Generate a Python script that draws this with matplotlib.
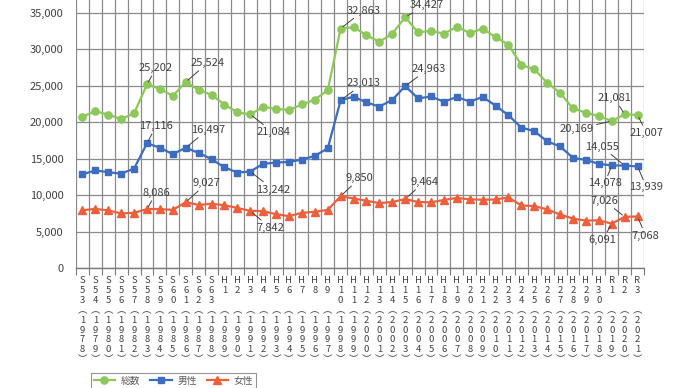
import matplotlib
matplotlib.use("Agg")
import matplotlib.pyplot as plt
from matplotlib.lines import Line2D

plt.rcParams['font.family'] = ['Noto Sans CJK JP', 'DejaVu Sans']

years = list(range(1978, 2022))
era_labels = ["S53", "S54", "S55", "S56", "S57", "S58", "S59", "S60", "S61", "S62", "S63",
              "H1", "H2", "H3", "H4", "H5", "H6", "H7", "H8", "H9", "H10",
              "H11", "H12", "H13", "H14", "H15", "H16", "H17", "H18", "H19", "H20",
              "H21", "H22", "H23", "H24", "H25", "H26", "H27", "H28", "H29", "H30",
              "R1", "R2", "R3"]

total = [20788, 21503, 21048, 20434, 21228, 25202, 24596, 23599, 25524, 24460,
         23742, 22436, 21346, 21084, 22104, 21851, 21679, 22445, 23104, 24391,
         32863, 33048, 31957, 31042, 32143, 34427, 32325, 32552, 32155, 33093,
         32249, 32845, 31690, 30651, 27858, 27283, 25427, 24025, 21897, 21321,
         20840, 20169, 21081, 21007]
male = [12859, 13386, 13155, 12942, 13654, 17116, 16508, 15624, 16497, 15802,
        14934, 13818, 13102, 13242, 14296, 14468, 14560, 14874, 15393, 16416,
        23013, 23512, 22727, 22144, 23080, 24963, 23272, 23540, 22813, 23478,
        22831, 23472, 22283, 20955, 19273, 18787, 17386, 16681, 15121, 14826,
        14290, 14078, 14055, 13939]
female = [7929, 8117, 7893, 7492, 7574, 8086, 8088, 7975, 9027, 8658,
          8808, 8618, 8244, 7842, 7808, 7383, 7119, 7571, 7711, 7975,
          9850, 9536, 9230, 8898, 9063, 9464, 9053, 9012, 9342, 9615,
          9418, 9373, 9407, 9696, 8585, 8496, 8041, 7344, 6776, 6495,
          6550, 6091, 7026, 7068]

series_names = ["総数", "男性", "女性"]
yticks = [0, 5000, 10000, 15000, 20000, 25000, 30000, 35000]

# annotated years and label offsets (pixels)
ann_total = {1983: (9, 16), 1986: (22, 19), 1991: (23, -18), 1998: (23, 18),
             2003: (22, 12), 2019: (-35, -8), 2020: (-10, 16), 2021: (9, -18)}
ann_male = {1983: (9, 17), 1986: (22, 18), 1991: (23, -18), 1998: (23, 17),
            2003: (23, 17), 2019: (-7, -18), 2020: (-23, 19), 2021: (9, -21)}
ann_female = {1983: (9, 16), 1986: (21, 19), 1991: (20, -17), 1998: (19, 18),
              2003: (19, 17), 2019: (-9, -16), 2020: (-20, 16), 2021: (8, -19)}

c_total = "#8DC85B"
c_male = "#3D6DBF"
c_female = "#EE603C"
grid_c = "#8A8A8A"
text_c = "#404040"

fig = plt.figure(figsize=(6.9, 3.88), dpi=100)
ax = fig.add_axes([76 / 690, 1 - 268 / 388, 568 / 690, 268 / 388])

x = list(range(len(years)))
ax.plot(x, total, color=c_total, lw=1.6, marker="o", ms=5.2, zorder=3, clip_on=False)
ax.plot(x, male, color=c_male, lw=1.6, marker="s", ms=5.0, zorder=3, clip_on=False)
ax.plot(x, female, color=c_female, lw=1.6, marker="^", ms=5.2, zorder=3, clip_on=False)

ax.set_xlim(-0.5, len(years) - 0.5)
ax.set_ylim(0, 36780)

# gridlines
for b in range(len(years) + 1):
    ax.axvline(b - 0.5, color=grid_c, lw=0.9, zorder=1)
for yt in yticks:
    ax.axhline(yt, color=grid_c, lw=0.9, zorder=1)

for sp in ["top", "right"]:
    ax.spines[sp].set_visible(False)
ax.spines["left"].set_visible(False)
ax.spines["bottom"].set_color("#7a7a7a")
ax.spines["bottom"].set_linewidth(1.0)

ax.set_yticks(yticks)
ax.set_yticklabels([f"{v:,}" for v in yticks], fontsize=8, color=text_c)
ax.tick_params(axis="y", length=0, pad=9)

# x ticks at category boundaries
ax.set_xticks([b - 0.5 for b in range(len(years) + 1)])
ax.set_xticklabels([])
ax.tick_params(axis="x", length=5, color="#7a7a7a", width=0.8)

trans = ax.get_xaxis_transform()
for i, (era, yr) in enumerate(zip(era_labels, years)):
    chars = [era[0]] + list(era[1:])
    while len(chars) < 3:
        chars.append(" ")
    chars += ["︵"] + list(str(yr)) + ["︶"]
    ax.text(i, -0.03, "\n".join(chars), transform=trans, ha="center", va="top",
            fontsize=6.8, color=text_c, linespacing=1.13)

def annotate(series, ann):
    for yr, (dx, dy) in ann.items():
        i = years.index(yr)
        v = series[i]
        ax.annotate(f"{v:,}", xy=(i, v), xytext=(dx, dy), textcoords="offset pixels",
                    ha="center", va="center", fontsize=8, color=text_c,
                    annotation_clip=False, zorder=4,
                    arrowprops=dict(arrowstyle="-", color="#404040", lw=0.7,
                                    shrinkA=0, shrinkB=2))

annotate(total, ann_total)
annotate(male, ann_male)
annotate(female, ann_female)

handles = [Line2D([], [], color=c_total, marker="o", lw=1.6, ms=5.2),
           Line2D([], [], color=c_male, marker="s", lw=1.6, ms=5.0),
           Line2D([], [], color=c_female, marker="^", lw=1.6, ms=5.2)]
leg = fig.legend(handles, series_names, loc="upper left",
                 bbox_to_anchor=(86 / 690, 1 - 368 / 388), ncol=3, fontsize=7,
                 frameon=True, fancybox=False, edgecolor="#7a7a7a",
                 handlelength=2.2, handletextpad=0.6, columnspacing=1.0,
                 borderpad=0.3)
for t in leg.get_texts():
    t.set_color("#595959")
leg.get_frame().set_linewidth(0.8)

fig.savefig("out.png", dpi=100)
